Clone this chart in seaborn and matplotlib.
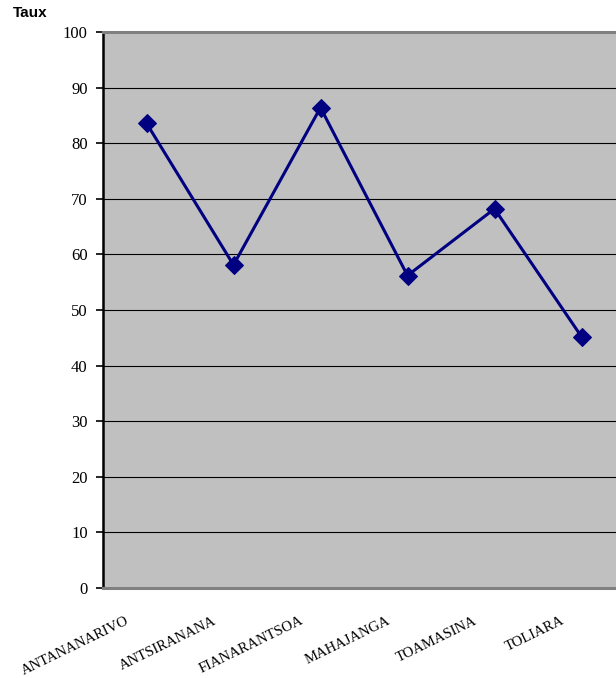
"""Taux par province - line chart (Excel style)."""

import matplotlib.pyplot as plt
from matplotlib.transforms import ScaledTranslation
import pandas as pd
import seaborn as sns

# ── Data ─────────────────────────────────────────────
provinces = [
    "ANTANANARIVO",
    "ANTSIRANANA",
    "FIANARANTSOA",
    "MAHAJANGA",
    "TOAMASINA",
    "TOLIARA",
]
taux = [83.6, 58.1, 86.4, 56.2, 68.2, 45.2]
y_ticks = list(range(0, 101, 10))

# ── Styling ──────────────────────────────────────────
_BG = "#C0C0C0"
_LINE = "#000080"
_SERIF = ["Liberation Serif", "DejaVu Serif"]

sns.set_style("white")
plt.rcParams["font.family"] = _SERIF
plt.rcParams["text.color"] = "black"
plt.rcParams["xtick.color"] = "black"
plt.rcParams["ytick.color"] = "black"

df = pd.DataFrame({"province": provinces, "taux": taux})

fig = plt.figure(figsize=(6.16, 6.78), dpi=100)
W, H = 616, 678
ax = fig.add_axes([103 / W, (H - 588) / H, 522 / W, 556 / H])
ax.set_facecolor(_BG)

sns.lineplot(
    data=df,
    x="province",
    y="taux",
    sort=False,
    color=_LINE,
    linewidth=2.2,
    marker="D",
    markersize=9,
    markeredgecolor=_LINE,
    ax=ax,
)

ax.set_xlim(-0.5, len(provinces) - 0.5)
ax.set_ylim(0, 100)
ax.set_yticks(y_ticks)
ax.set_yticklabels([str(v) for v in y_ticks], fontsize=12)
ax.yaxis.grid(True, color="black", linewidth=0.8)
ax.set_axisbelow(True)
ax.set_xlabel("")
ax.set_ylabel("")

ax.tick_params(axis="y", direction="out", length=5, width=1.2, color="black", pad=6, left=True)
ax.tick_params(axis="x", length=0, pad=23)

ax.set_xticks(range(len(provinces)))
ax.set_xticklabels(provinces, fontsize=10.5, rotation=26, ha="right", va="center",
                   rotation_mode="anchor")
shift = ScaledTranslation(-18 / 100, 0, fig.dpi_scale_trans)
for lbl in ax.get_xticklabels():
    lbl.set_transform(lbl.get_transform() + shift)

for side in ("left", "bottom", "top", "right"):
    ax.spines[side].set_visible(True)
ax.spines["left"].set_color("black")
ax.spines["left"].set_linewidth(1.8)
ax.spines["bottom"].set_color("#808080")
ax.spines["bottom"].set_linewidth(2.2)
ax.spines["top"].set_color("#808080")
ax.spines["top"].set_linewidth(2.2)
ax.spines["right"].set_visible(False)

fig.text(13 / W, 1 - 13 / H, "Taux", fontsize=11, fontweight="bold",
         family=["Liberation Sans", "DejaVu Sans"], ha="left", va="center")

fig.savefig("out.png", dpi=100, facecolor="white")
